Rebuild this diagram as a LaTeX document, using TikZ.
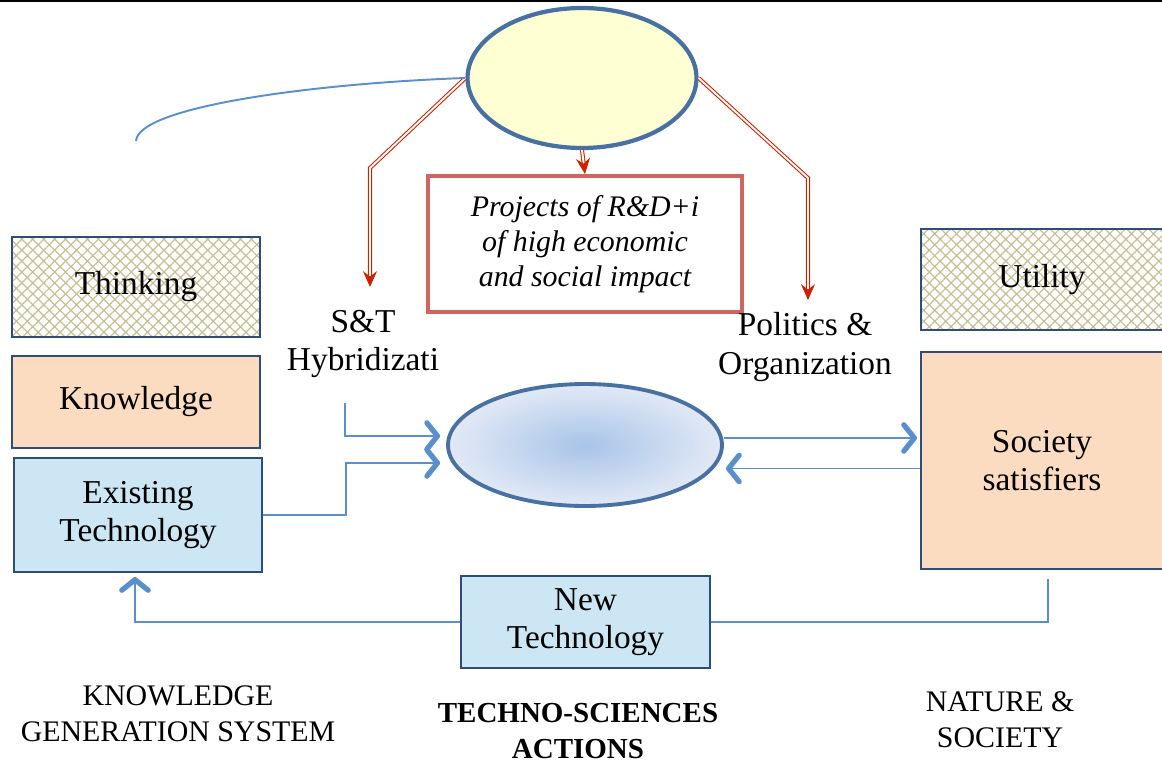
\documentclass[tikz,border=0pt]{standalone}
\usepackage{fontspec}
\setmainfont{Liberation Serif}
\usepackage{xcolor}
\usepackage{tikz}
\usetikzlibrary{shapes,arrows,positioning,calc,patterns,patterns.meta,arrows.meta,decorations.markings}

\definecolor{boxline}{RGB}{46,78,120}
\definecolor{ellline}{RGB}{72,112,160}
\definecolor{flowblue}{RGB}{91,143,204}
\definecolor{peach}{RGB}{251,220,192}
\definecolor{skyfill}{RGB}{204,231,243}
\definecolor{paleyellow}{RGB}{255,255,212}
\definecolor{projred}{RGB}{208,100,96}
\definecolor{arrowred}{RGB}{204,34,0}
\definecolor{hatchcol}{RGB}{200,190,150}
\definecolor{shadein}{RGB}{168,196,232}
\definecolor{shadeout}{RGB}{226,233,246}

\tikzset{
  boxtext/.style={font=\fontsize{19}{22}\selectfont, align=center},
  blockbox/.style={draw=boxline, line width=1.2pt, boxtext, inner sep=2pt},
  hatchbox/.style={blockbox, pattern={Hatch[angle=45,distance=4.4pt,line width=0.7pt]}, pattern color=hatchcol},
  peachbox/.style={blockbox, fill=peach},
  skybox/.style={blockbox, fill=skyfill},
  plain/.style={boxtext, inner sep=2pt},
  footer/.style={font=\fontsize{17}{20.5}\selectfont, align=center, inner sep=2pt},
  projbox/.style={draw=projred, line width=2.2pt, fill=white, align=center,
    font=\itshape\fontsize{17}{20}\selectfont, minimum width=6.28cm, minimum height=2.72cm},
  link/.style={draw=flowblue, line width=1.1pt},
  flow/.style={link, postaction={decorate}, decoration={markings,
    mark=at position 1 with {\pgfsetlinewidth{3pt}\arrow{Straight Barb[length=6pt,width=15pt,round]}}}},
  redarrow/.style={draw=arrowred, line width=0.6pt, double=white, double distance=1.1pt,
    -{Stealth[length=9pt,width=8pt,inset=3pt]}},
}

\begin{document}
\begin{tikzpicture}[x=0.02cm,y=-0.02cm]
    \useasboundingbox (0,0) rectangle (1162,764);
    \clip (0,0) rectangle (1162,764);
    \draw[line width=1.3pt] (0,1) -- (1162,1);

    % Ellipses and boxes
    \node[ellipse, draw=ellline, line width=2.4pt, fill=paleyellow, inner sep=0pt,
          minimum width=4.58cm, minimum height=2.8cm] (goal) at (582,78) {};
    \node[ellipse, draw=ellline, line width=2.2pt, inner color=shadein, outer color=shadeout, inner sep=0pt,
          minimum width=5.48cm, minimum height=2.44cm] (core) at (585,445) {};
    \node[projbox] (proj) at (585,244) {Projects of R\&D+i\\of high economic\\and social impact};

    \node[hatchbox, minimum width=4.96cm, minimum height=2cm] (think) at (136,287) {Thinking};
    \node[peachbox, minimum width=4.96cm, minimum height=1.84cm] (know) at (136,402) {Knowledge};
    \node[skybox, minimum width=4.96cm, minimum height=2.28cm] (exist) at (138,515) {Existing\\Technology};

    \node[hatchbox, minimum width=4.84cm, minimum height=2.02cm] (util) at (1042,279.5) {Utility};
    \node[peachbox, minimum width=4.84cm, minimum height=4.34cm] (soc) at (1042,460.5) {Society\\satisfiers};
    \node[skybox, minimum width=4.98cm, minimum height=1.84cm] (newtech) at (585.5,622) {New\\Technology};

    \node[plain] (st) at (363,344) {S\&T\\Hybridizati};
    \node[plain] (pol) at (805,347) {Politics \&\\Organization};

    % Red arrows from the top ellipse
    \coordinate (stbend) at (370,168);
    \coordinate (sttip) at (370,287);
    \coordinate (polbend) at (808,178);
    \coordinate (poltip) at (808,300);
    \draw[redarrow] (goal.west) -- (stbend) -- (sttip);
    \draw[redarrow] (goal.east) -- (polbend) -- (poltip);
    \draw[redarrow] (goal.south) -- (proj.north);

    % Blue connectors
    \coordinate (curveend) at (136,141);
    \draw[link] (goal.west) .. controls (320,83) and (138,106) .. (curveend);
    \coordinate (hybin) at (345,403);
    \draw[flow] (hybin) |- ($(core.west)+(-6,-9)$);
    \draw[flow] (exist.east) -- ++(83,0) |- ($(core.west)+(-6,18)$);
    \draw[flow] ($(core.east)+(0,-7)$) coordinate (outpt) -- ($(outpt -| soc.west)+(-3,0)$);
    \draw[flow] ($(soc.west)+(0,8)$) coordinate (backpt) -- ($(backpt -| core.east)+(2,0)$);
    \draw[link] ($(soc.south)+(6,9)$) |- (newtech.east);
    \draw[flow] (newtech.west) -| ($(exist.south)+(-3,4)$);

    % Footers
    \node[footer] (kgs) at (178,714) {KNOWLEDGE\\GENERATION SYSTEM};
    \node[footer, font=\bfseries\fontsize{16.5}{20}\selectfont] (tsa) at (578,731) {TECHNO-SCIENCES\\ACTIONS};
    \node[footer] (nas) at (1000,720) {NATURE \&\\SOCIETY};
\end{tikzpicture}
\end{document}
